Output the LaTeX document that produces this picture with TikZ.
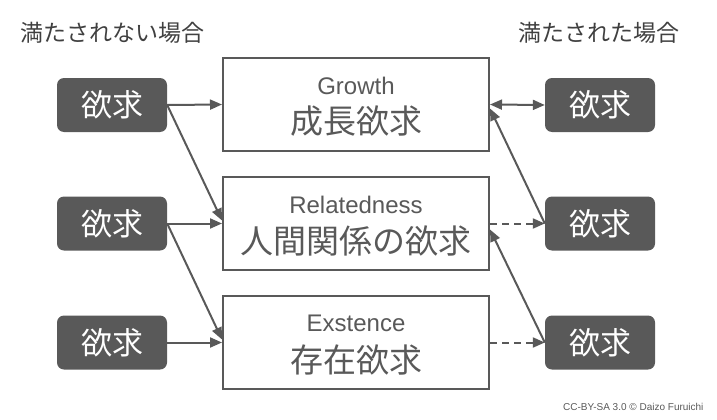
\documentclass[tikz,border=0pt]{standalone}
\usepackage{fontspec}
\setmainfont{Liberation Sans}
\newfontfamily\jpfont{Noto Sans CJK JP}
\usetikzlibrary{arrows.meta}

\definecolor{needgray}{RGB}{89,89,89}
\definecolor{titlegray}{RGB}{64,64,64}

\begin{document}
\begin{tikzpicture}
		[x=1pt,y=-1pt,>={Triangle[length=12pt,width=10pt]},
		want/.style={fill=needgray,rounded corners=7pt,minimum width=110pt,minimum height=54pt,inner sep=0pt,text=white,font=\jpfont\fontsize{31}{36}\selectfont},
		stage/.style={draw=needgray,line width=2pt,fill=white,minimum width=266pt,minimum height=93pt,inner sep=0pt},
		entext/.style={text=needgray,font=\fontsize{24}{28}\selectfont},
		jptext/.style={text=needgray,font=\jpfont\fontsize{33}{38}\selectfont},
		heading/.style={text=titlegray,anchor=west,inner sep=0pt,font=\jpfont\fontsize{23}{27}\selectfont},
		link/.style={draw=needgray,line width=2pt}]

        \useasboundingbox (0,0) rectangle (717,420);

        \node[heading] (unmet) at (20,33) {満たされない場合};
        \node[heading] (met) at (518,33) {満たされた場合};

        \node[stage] (grow) at (356,104.5) {};
        \node[stage] (relate) at (356,223.5) {};
        \node[stage] (exist) at (356,342.5) {};

        \node[entext] (growen) at ([yshift=19pt]grow.center) {Growth};
        \node[jptext] (growjp) at ([yshift=-17pt]grow.center) {成長欲求};
        \node[entext] (relateen) at ([yshift=19pt]relate.center) {Relatedness};
        \node[jptext] (relatejp) at ([yshift=-17pt]relate.center) {人間関係の欲求};
        \node[entext] (existen) at ([yshift=19pt]exist.center) {Exstence};
        \node[jptext] (existjp) at ([yshift=-17pt]exist.center) {存在欲求};

        \foreach \i/\y in {1/105,2/223.5,3/342.5} {
            \node[want] (L\i) at (112,\y) {欲求};
            \node[want] (R\i) at (600,\y) {欲求};
        }

		\draw[link,->] (L1.east) -- (grow.west);
		\draw[link,->] (L1.east) -- ([yshift=3pt]relate.west);
		\draw[link,->] (L2.east) -- (relate.west);
		\draw[link,->] (L2.east) -- ([yshift=3pt]exist.west);
		\draw[link,->] (L3.east) -- (exist.west);

		\draw[link,<->] (grow.east) -- (R1.west);
		\draw[link,->] (R2.west) -- ([yshift=-4pt]grow.east);
		\draw[link,->,dash pattern=on 7pt off 5pt] (relate.east) -- (R2.west);
		\draw[link,->] (R3.west) -- ([yshift=-6pt]relate.east);
		\draw[link,->,dash pattern=on 7pt off 5pt] (exist.east) -- (R3.west);

        \node[anchor=east,text=needgray,font=\fontsize{10}{12}\selectfont] (credit) at (707,407) {CC-BY-SA 3.0 © Daizo Furuichi};

    \end{tikzpicture}
\end{document}
